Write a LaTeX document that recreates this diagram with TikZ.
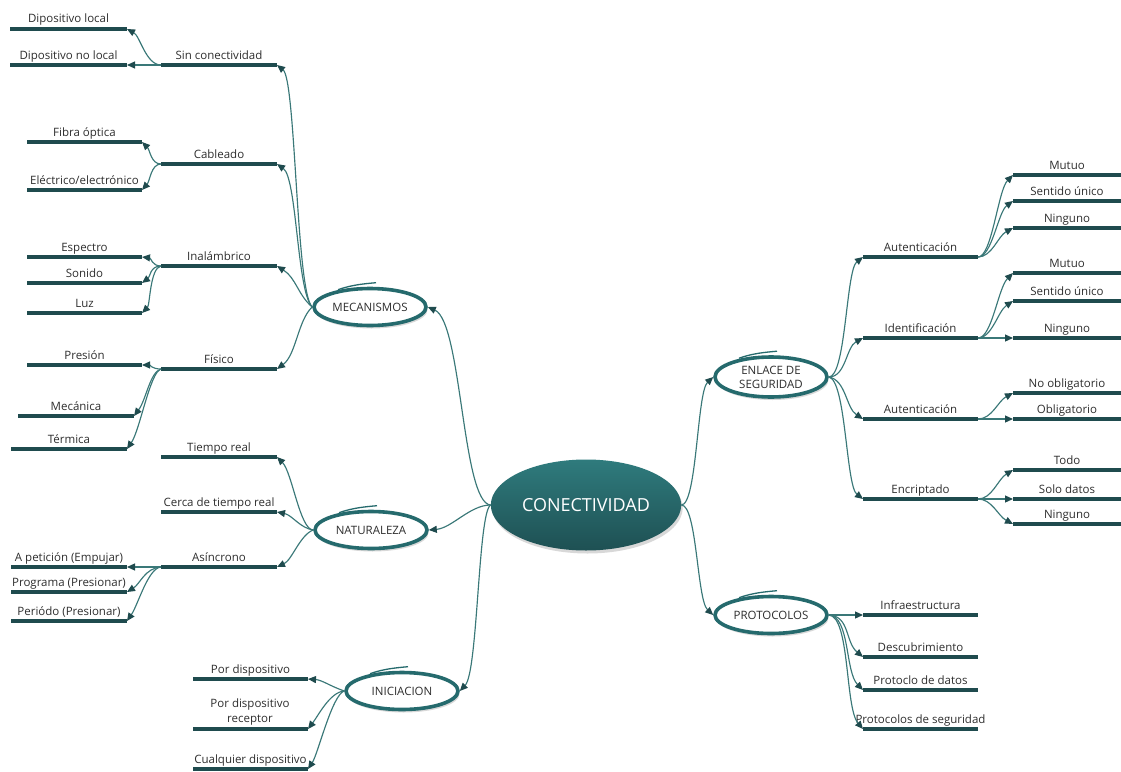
\documentclass[tikz,border=0pt]{standalone}
\usepackage{fontspec}
\setmainfont{Open Sans}
\usetikzlibrary{arrows.meta,shadows,shapes.geometric}
\definecolor{ulc}{HTML}{1F4B4E}
\definecolor{conc}{HTML}{3A7878}
\definecolor{ellc}{HTML}{256A6D}
\definecolor{txtc}{HTML}{2E2E2E}
\definecolor{ctop}{HTML}{2F7B7D}
\definecolor{cbot}{HTML}{1E5053}
\tikzset{
 ul/.style={line width=3.6pt, draw=ulc},
 con/.style={draw=conc, line width=1.15pt, -{Triangle[length=8pt,width=7pt,fill=ulc,color=ulc]}},
 lbl/.style={anchor=base, inner sep=0pt, text=txtc, font=\fontsize{11.5}{15}\selectfont},
 oval/.style={ellipse, draw=ellc, line width=3.6pt, fill=white, minimum width=112pt, minimum height=37pt, inner sep=0pt, text=txtc, font=\fontsize{11.5}{14}\selectfont, align=center, drop shadow={shadow xshift=1.5pt, shadow yshift=-3pt, opacity=0.3, fill=gray}},
 swoosh/.style={draw=ellc, line width=1.3pt},
}
\newcommand{\lf}[5]{%
 \coordinate (#1-l) at (#2,#4);
 \coordinate (#1-r) at (#3,#4);
 \draw[ul] (#1-l) -- (#1-r);
 \node[lbl] (#1) at ({(#2+#3)/2},#4-6) {#5};}
\newcommand{\swo}[1]{%
 \draw[swoosh] ([shift={(-32,3)}]#1.north) .. controls ([shift={(-18,-2)}]#1.north) and ([shift={(-5,-3)}]#1.north) .. ([shift={(6,-4)}]#1.north);}
\begin{document}
\begin{tikzpicture}[x=1pt,y=-1pt]
\useasboundingbox (0,0) rectangle (1121,771);
\fill[white] (0,0) rectangle (1121,771);

% central node
\node[ellipse, minimum width=187pt, minimum height=91pt, top color=ctop, bottom color=cbot, draw=none, text=white, font=\fontsize{18}{22}\selectfont, drop shadow={shadow xshift=1.5pt, shadow yshift=-3pt, opacity=0.3, fill=gray}] (con) at (586,505) {CONECTIVIDAD};

% main branches
\node[oval] (mec) at (370,307) {MECANISMOS};
\node[oval] (nat) at (371,530) {NATURALEZA};
\node[oval] (ini) at (402,691) {INICIACION};
\node[oval, minimum height=40pt] (enl) at (771,377) {ENLACE DE\\SEGURIDAD};
\node[oval] (pro) at (771,615) {PROTOCOLOS};
\swo{mec}\swo{nat}\swo{ini}\swo{enl}\swo{pro}

% left level 2
\lf{sin}{161}{277}{65}{Sin conectividad}
\lf{cab}{161}{277}{164}{Cableado}
\lf{ina}{161}{277}{266}{Inalámbrico}
\lf{fis}{161}{277}{369}{Físico}
\lf{tr}{161}{277}{457}{Tiempo real}
\lf{cer}{161}{277}{512}{Cerca de tiempo real}
\lf{asi}{161}{277}{567}{Asíncrono}

% left leaves
\lf{dl}{10}{127}{29}{Dipositivo local}
\lf{dnl}{10}{127}{65}{Dipositivo no local}
\lf{fo}{27}{142}{142}{Fibra óptica}
\lf{ee}{27}{142}{190}{Eléctrico/electrónico}
\lf{esp}{27}{142}{257}{Espectro}
\lf{son}{27}{142}{283}{Sonido}
\lf{luz}{27}{142}{313}{Luz}
\lf{pre}{27}{142}{365}{Presión}
\lf{mc}{18}{134}{416}{Mecánica}
\lf{ter}{11}{127}{449}{Térmica}
\lf{ap}{11}{127}{567}{A petición (Empujar)}
\lf{prg}{11}{127}{592}{Programa (Presionar)}
\lf{per}{11}{127}{621}{Periódo (Presionar)}

% iniciacion leaves
\lf{pd}{193}{308}{679}{Por dispositivo}
\coordinate (pdr-l) at (193,729);
\coordinate (pdr-r) at (308,729);
\draw[ul] (pdr-l) -- (pdr-r);
\node[lbl, anchor=south, align=center] (pdr) at (250,725) {Por dispositivo\\receptor};
\lf{cd}{193}{308}{769}{Cualquier dispositivo}

% right level 2
\lf{au1}{863}{978}{257}{Autenticación}
\lf{ide}{863}{978}{338}{Identificación}
\lf{au2}{863}{978}{419}{Autenticación}
\lf{enc}{863}{978}{499}{Encriptado}
\lf{inf}{863}{978}{615}{Infraestructura}
\lf{des}{863}{978}{657}{Descubrimiento}
\lf{pdd}{863}{978}{690}{Protoclo de datos}
\lf{pds}{863}{978}{729}{Protocolos de seguridad}

% right leaves
\lf{m1}{1013}{1121}{175}{Mutuo}
\lf{s1}{1013}{1121}{201}{Sentido único}
\lf{n1}{1013}{1121}{228}{Ninguno}
\lf{m2}{1013}{1121}{273}{Mutuo}
\lf{s2}{1013}{1121}{301}{Sentido único}
\lf{n2}{1013}{1121}{338}{Ninguno}
\lf{no}{1013}{1121}{393}{No obligatorio}
\lf{ob}{1013}{1121}{419}{Obligatorio}
\lf{to}{1013}{1121}{470}{Todo}
\lf{sd}{1013}{1121}{499}{Solo datos}
\lf{n3}{1013}{1121}{524}{Ninguno}

% connectors from center
\draw[con] (con.west) .. controls (462,503) and (462,322) .. (mec.east);
\draw[con] (con.west) .. controls (470,505) and (452,528) .. (nat.east);
\draw[con] (con.west) .. controls (478,512) and (478,672) .. (ini.east);
\draw[con] (con.east) .. controls (697,505) and (697,392) .. (enl.west);
\draw[con] (con.east) .. controls (697,505) and (697,600) .. (pro.west);

% mecanismos
\draw[con] (mec.west) .. controls (296,292) and (296,80) .. (sin-r);
\draw[con] (mec.west) .. controls (297,292) and (297,178) .. (cab-r);
\draw[con] (mec.west) .. controls (298,295) and (296,278) .. (ina-r);
\draw[con] (mec.west) .. controls (298,320) and (296,355) .. (fis-r);
\draw[con] (sin-l) .. controls (146,65) and (140,36) .. (dl-r);
\draw[con] (sin-l) -- (dnl-r);
\draw[con] (cab-l) .. controls (151,164) and (150,150) .. (fo-r);
\draw[con] (cab-l) .. controls (151,164) and (150,181) .. (ee-r);
\draw[con] (ina-l) .. controls (152,266) and (151,258) .. (esp-r);
\draw[con] (ina-l) .. controls (150,266) and (150,277) .. (son-r);
\draw[con] (ina-l) .. controls (150,268) and (150,305) .. (luz-r);
\draw[con] (fis-l) .. controls (152,369) and (150,365) .. (pre-r);
\draw[con] (fis-l) .. controls (150,372) and (146,400) .. (mc-r);
\draw[con] (fis-l) .. controls (150,372) and (140,430) .. (ter-r);

% naturaleza
\draw[con] (nat.west) .. controls (300,530) and (292,472) .. (tr-r);
\draw[con] (nat.west) .. controls (300,528) and (292,515) .. (cer-r);
\draw[con] (nat.west) .. controls (300,535) and (292,560) .. (asi-r);
\draw[con] (asi-l) -- (ap-r);
\draw[con] (asi-l) .. controls (145,568) and (140,584) .. (prg-r);
\draw[con] (asi-l) .. controls (148,568) and (138,605) .. (per-r);

% iniciacion
\draw[con] (ini.west) .. controls (330,686) and (322,680) .. (pd-r);
\draw[con] (ini.west) .. controls (330,692) and (318,716) .. (pdr-r);
\draw[con] (ini.west) .. controls (332,695) and (318,754) .. (cd-r);

% enlace
\draw[con] (enl.east) .. controls (846,377) and (846,270) .. (au1-l);
\draw[con] (enl.east) .. controls (846,377) and (846,347) .. (ide-l);
\draw[con] (enl.east) .. controls (846,380) and (846,408) .. (au2-l);
\draw[con] (enl.east) .. controls (846,380) and (846,486) .. (enc-l);
\draw[con] (au1-r) .. controls (992,257) and (998,190) .. (m1-l);
\draw[con] (au1-r) .. controls (992,257) and (998,212) .. (s1-l);
\draw[con] (au1-r) .. controls (992,257) and (998,236) .. (n1-l);
\draw[con] (ide-r) .. controls (992,338) and (998,288) .. (m2-l);
\draw[con] (ide-r) .. controls (992,338) and (998,311) .. (s2-l);
\draw[con] (ide-r) -- (n2-l);
\draw[con] (au2-r) .. controls (992,419) and (998,401) .. (no-l);
\draw[con] (au2-r) -- (ob-l);
\draw[con] (enc-r) .. controls (992,499) and (998,479) .. (to-l);
\draw[con] (enc-r) -- (sd-l);
\draw[con] (enc-r) .. controls (992,499) and (998,516) .. (n3-l);

% protocolos
\draw[con] (pro.east) -- (inf-l);
\draw[con] (pro.east) .. controls (850,616) and (845,642) .. (des-l);
\draw[con] (pro.east) .. controls (850,616) and (845,672) .. (pdd-l);
\draw[con] (pro.east) .. controls (850,616) and (845,708) .. (pds-l);
\end{tikzpicture}
\end{document}
